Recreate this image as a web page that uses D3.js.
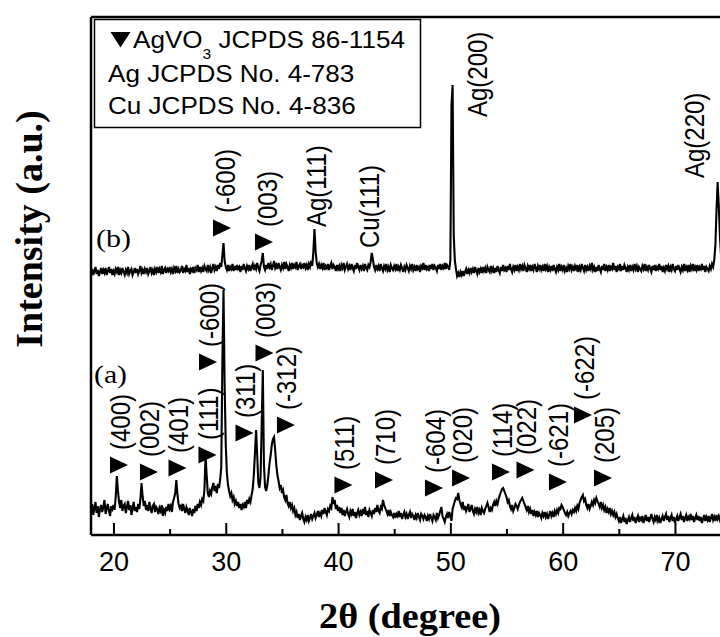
<!DOCTYPE html>
<html><head><meta charset="utf-8">
<script src="https://cdn.jsdelivr.net/npm/d3@7/dist/d3.min.js"></script>
<style>body{margin:0;background:#fff;} svg{display:block;}</style>
</head><body>
<script>
// ---- data (intensity in arbitrary units, 2θ grid starts at 18.0°, step 0.1°) ----
const thetaStart = 18.0;
const thetaStep = 0.1;

// (a) trace
const traceA = [
24,31,20,27,33,22,29,18,26,30,
23,28,35,21,27,31,24,19,29,26,
30,25,38,59,44,33,27,35,24,29,
31,22,28,34,25,30,20,27,33,24,
28,23,31,26,36,52,38,29,34,25,
30,24,33,27,22,29,31,23,28,26,
21,27,24,30,19,25,22,28,24,31,
26,29,23,33,37,42,55,40,31,27,
29,24,31,26,22,28,25,20,27,23,
19,26,22,29,24,31,27,33,30,36,
34,45,79,60,42,38,44,41,48,52,
44,49,42,51,47,55,68,175,245,150,
90,62,50,44,39,42,35,38,31,34,
29,33,27,31,25,30,28,33,27,35,
31,36,33,40,46,60,82,105,80,52,
47,58,110,165,70,48,44,50,60,72,
80,90,96,98,85,70,60,54,47,50,
42,45,38,35,40,32,29,33,27,30,
24,27,20,23,17,21,15,19,22,16,
13,18,15,20,14,17,21,16,19,22,
17,20,24,18,22,19,25,21,27,23,
20,26,24,29,27,38,31,35,26,30,
24,28,22,27,20,25,19,23,26,21,
18,24,21,26,19,23,17,22,25,20,
23,19,26,21,28,20,24,18,25,22,
19,25,21,27,23,30,24,22,28,26,
35,30,27,24,21,25,19,23,20,18,
22,17,21,19,24,18,22,16,20,23,
18,21,16,20,23,17,21,19,15,20,
17,22,18,15,21,19,16,20,18,14,
19,16,21,17,14,20,18,15,22,17,
20,24,28,19,16,13,18,21,17,23,
19,14,26,30,34,37,36,42,35,31,
28,33,25,29,24,27,31,23,26,30,
24,21,26,23,28,22,25,20,27,24,
22,26,29,32,28,23,27,25,30,33,
29,34,31,36,40,43,46,47,44,41,
38,33,35,29,26,30,24,27,31,29,
26,30,33,35,37,34,31,28,25,29,
23,26,21,25,19,23,20,24,18,22,
20,17,22,19,23,18,21,16,20,24,
19,22,18,24,21,25,22,27,26,30,
28,25,22,20,23,19,22,24,21,25,
23,27,24,29,26,32,35,38,40,34,
36,30,27,31,26,29,33,30,35,32,
37,34,31,28,33,27,30,25,28,22,
26,23,27,21,24,20,23,18,21,17,
14,18,12,16,19,13,17,11,15,18,
13,17,20,14,18,12,16,19,13,17,
15,19,12,16,20,14,18,13,17,21,
16,13,18,15,20,14,17,12,16,19,
14,18,21,15,19,13,17,20,14,18,
12,16,19,14,18,21,15,19,13,17,
20,14,18,16,21,15,19,13,17,20,
15,19,14,18,12,16,20,14,18,15,
19,13,17,21,15,18,14,20,16,19,
15,18,13,17,20,16
];

// (b) trace
const traceB = [
262,266,260,264,268,261,265,259,263,267,
261,265,262,267,260,264,268,262,266,260,
264,261,266,263,268,260,265,262,267,263,
260,265,262,268,261,264,266,260,263,267,
262,266,261,264,269,262,265,261,266,263,
267,261,264,268,262,265,260,266,263,268,
262,266,263,269,261,265,267,262,266,264,
268,263,266,261,267,264,269,262,266,263,
265,269,262,266,264,270,263,267,261,266,
264,268,262,267,265,270,263,268,264,267,
263,269,266,264,270,265,268,262,267,271,
265,268,264,270,266,272,268,280,292,274,
268,265,270,264,268,266,271,264,269,265,
270,266,268,263,269,265,271,267,264,269,
266,270,264,268,271,265,269,266,272,267,
264,270,274,282,268,265,270,266,272,268,
271,265,269,274,267,270,266,272,268,265,
270,267,273,266,271,268,264,270,267,272,
266,270,268,273,265,269,271,266,270,268,
272,267,270,265,271,268,274,269,283,306,
284,272,268,271,266,270,267,272,265,269,
267,271,265,269,272,266,270,268,264,270,
266,269,264,270,267,272,265,268,271,266,
269,265,271,267,264,270,266,272,268,265,
270,266,269,264,271,267,265,270,268,273,
282,276,268,265,270,266,269,264,271,267,
264,269,266,271,265,268,263,270,267,265,
269,266,271,264,268,265,270,267,263,268,
265,270,267,264,269,266,271,265,268,264,
270,266,268,263,269,267,272,265,270,266,
268,264,270,266,271,265,269,267,264,270,
266,271,265,269,267,272,266,270,268,265,
275,430,450,300,274,266,259,262,258,263,
260,264,259,263,266,261,265,262,267,263,
266,262,268,264,261,267,263,266,262,268,
264,267,262,268,265,263,269,264,267,262,
267,263,269,265,262,268,264,270,265,267,
263,269,265,271,266,263,268,265,270,264,
268,265,271,266,269,264,270,267,263,269,
266,270,264,268,265,271,267,263,269,266,
270,265,268,264,271,266,269,263,268,265,
269,264,270,266,263,268,265,271,264,268,
265,270,264,267,263,269,266,271,265,268,
264,269,266,270,263,268,265,271,267,264,
270,265,268,264,269,266,272,265,268,263,
268,264,270,266,263,269,265,271,264,268,
265,270,264,268,266,272,265,269,263,268,
266,271,264,269,265,270,267,263,268,265,
270,264,268,265,271,266,269,263,268,266,
264,269,266,271,264,268,265,270,266,263,
269,265,270,264,268,266,271,265,269,263,
267,264,270,266,269,263,268,265,271,266,
264,269,265,270,266,263,268,265,271,264,
268,265,270,263,269,266,271,264,268,265,
270,264,268,266,271,265,269,263,268,266,
264,269,266,271,268,275,290,325,353,330,
300,280,270,266,268,264
];

const xDomain = [18, 80];
const yDomain = [0, 518];
const xTicksMajor = [20, 30, 40, 50, 60, 70];
const xTicksMinor = [25, 35, 45, 55, 65];

// peak labels of trace (a): text, 2θ position, intensity of the text's lower end
const labelsA      = ["(400)","(002)","(401)","(111)","(-600)","(311)","(003)","(-312)","(511)","(710)","(-604)","(020)","(114)","(022)","(-621)","(-622)","(205)"];
const labelsATheta = [20.58, 23.25, 25.79, 28.46, 28.51, 31.76, 33.54, 35.45, 40.57, 44.18, 48.63, 51.04, 54.60, 56.78, 59.67, 61.90, 63.68];
const labelsAInt   = [85, 78, 82, 95, 188, 117, 197, 125, 65, 70, 62, 72, 78, 80, 68, 135, 72];

// peak labels of trace (b)
const labelsB       = ["(-600)","(003)","Ag(111)","Cu(111)","Ag(200)","Ag(220)"];
const labelsBTheta  = [29.93, 33.67, 38.04, 42.84, 52.37, 71.78];
const labelsBInt    = [322, 308, 308, 287, 418, 357];
const labelsBMarker = [true, true, false, false, false, false];

const legendRow2 = "Ag JCPDS No. 4-783";
const legendRow3 = "Cu JCPDS No. 4-836";

// ---- drawing ----
const W = 720, H = 637;
const svg = d3.select("body").append("svg").attr("width", W).attr("height", H);

const x = d3.scaleLinear().domain(xDomain).range([91, 91 + 62 * 11.23]);
const y = d3.scaleLinear().domain(yDomain).range([535, 17]);

const sans = "'Liberation Sans', Arial, sans-serif";
const serif = "'Liberation Serif', 'Times New Roman', serif";

svg.append("clipPath").attr("id", "plotclip")
  .append("rect").attr("x", 91).attr("y", 17).attr("width", W - 91).attr("height", 518);

const line = d3.line()
  .x((d, i) => x(thetaStart + i * thetaStep))
  .y(d => y(d));

const plot = svg.append("g").attr("clip-path", "url(#plotclip)");
[traceA, traceB].forEach(tr => {
  plot.append("path").datum(tr).attr("d", line)
    .attr("fill", "none").attr("stroke", "#000").attr("stroke-width", 2.1)
    .attr("stroke-linejoin", "miter");
});

// axes (ticks pointing inward)
const axisMajor = d3.axisBottom(x).tickValues(xTicksMajor).tickSizeInner(-12).tickSizeOuter(0).tickPadding(17);
const axisMinor = d3.axisBottom(x).tickValues(xTicksMinor).tickSizeInner(-6).tickSizeOuter(0).tickFormat("");
const gMaj = svg.append("g").attr("transform", "translate(0,535)").call(axisMajor);
const gMin = svg.append("g").attr("transform", "translate(0,535)").call(axisMinor);
[gMaj, gMin].forEach(g => {
  g.select(".domain").remove();
  g.selectAll(".tick line").attr("stroke", "#000").attr("stroke-width", 2);
});
gMaj.selectAll(".tick text").attr("font-family", sans).attr("font-size", 27).attr("fill", "#000");

// frame
const frame = svg.append("g").attr("stroke", "#000").attr("stroke-width", 2.5).attr("fill", "none");
frame.append("line").attr("x1", x(xDomain[0])).attr("x2", x(xDomain[0])).attr("y1", y(yDomain[1])).attr("y2", y(yDomain[0]));
frame.append("line").attr("x1", x(xDomain[0])).attr("x2", x(xDomain[1])).attr("y1", y(yDomain[0])).attr("y2", y(yDomain[0]));
frame.append("line").attr("x1", x(xDomain[0])).attr("x2", x(xDomain[1])).attr("y1", y(yDomain[1])).attr("y2", y(yDomain[1]));

// markers and labels
const triRight = "M-9,-8.5L9,0L-9,8.5Z";
function drawLabels(names, thetas, ints, markers, dx) {
  names.forEach((t, i) => {
    const cx = x(thetas[i]), yb = y(ints[i]);
    svg.append("text")
      .attr("transform", `translate(${cx},${yb}) scale(1.13,1) rotate(-90)`)
      .attr("text-anchor", "start").attr("dominant-baseline", "central")
      .attr("font-family", sans).attr("font-size", 24).attr("fill", "#000")
      .text(t);
    if (markers[i]) {
      svg.append("path").attr("d", triRight)
        .attr("transform", `translate(${cx - dx},${yb + 15})`)
        .attr("fill", "#000");
    }
  });
}
drawLabels(labelsA, labelsATheta, labelsAInt, labelsA.map(() => true), 1);
drawLabels(labelsB, labelsBTheta, labelsBInt, labelsBMarker, 3);

// trace tags
svg.append("text").attr("x", 96).attr("y", 247).attr("font-family", serif).attr("font-size", 26)
  .attr("textLength", 35).attr("lengthAdjust", "spacingAndGlyphs").text("(b)");
svg.append("text").attr("x", 94).attr("y", 383).attr("font-family", serif).attr("font-size", 26)
  .attr("textLength", 33).attr("lengthAdjust", "spacingAndGlyphs").text("(a)");

// legend box
svg.append("rect").attr("x", 94.5).attr("y", 19.5).attr("width", 326).attr("height", 108)
  .attr("fill", "#fff").attr("stroke", "#000").attr("stroke-width", 1.5);
svg.append("path").attr("d", "M-10,-7.5L10,-7.5L0,8Z").attr("transform", "translate(120.5,39.5)").attr("fill", "#000");
const l1 = svg.append("g").attr("transform", "translate(133,48) scale(1.11,1)")
  .append("text").attr("font-family", sans).attr("font-size", 23.5).attr("fill", "#000");
l1.append("tspan").text("AgVO");
l1.append("tspan").attr("dy", 11).attr("font-size", 14).text("3");
l1.append("tspan").attr("dy", -11).text(" JCPDS 86-1154");
svg.append("g").attr("transform", "translate(108,82) scale(1.11,1)")
  .append("text").attr("font-family", sans).attr("font-size", 23.5).text(legendRow2);
svg.append("g").attr("transform", "translate(108,114) scale(1.11,1)")
  .append("text").attr("font-family", sans).attr("font-size", 23.5).text(legendRow3);

// axis titles
svg.append("text").attr("x", 319).attr("y", 628)
  .attr("font-family", serif).attr("font-weight", "bold").attr("font-size", 36)
  .attr("textLength", 182).attr("lengthAdjust", "spacingAndGlyphs").text("2θ (degree)");
svg.append("text").attr("transform", "translate(42,229) rotate(-90)")
  .attr("text-anchor", "middle")
  .attr("font-family", serif).attr("font-weight", "bold").attr("font-size", 38)
  .text("Intensity (a.u.)");
</script>
</body></html>
